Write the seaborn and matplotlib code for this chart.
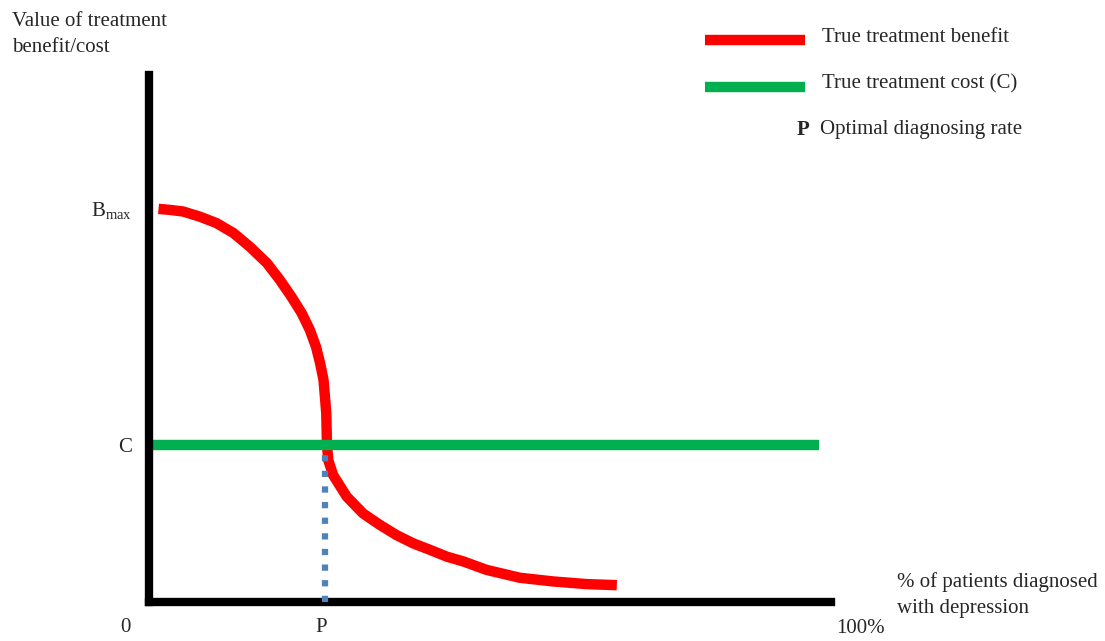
import matplotlib.pyplot as plt
import seaborn as sns
import numpy as np
from matplotlib.lines import Line2D

sns.set_theme(style="white")
plt.rcParams['font.family'] = ['Liberation Serif', 'DejaVu Serif']
plt.rcParams['mathtext.fontset'] = 'custom'
plt.rcParams['mathtext.rm'] = 'Liberation Serif'

# benefit curve (x: % diagnosed, y: value)
benefit_x = [1.4, 3.1, 5.0, 7.5, 9.9, 12.4, 14.8, 17.3, 19.2, 20.9, 22.4,
             23.6, 24.5, 25.1, 25.6, 25.8, 26.0, 26.1, 26.3, 27.0, 29.0,
             31.4, 33.9, 36.3, 38.8, 41.2, 43.7, 46.1, 49.5, 54.4, 59.3,
             64.2, 68.6]
benefit_y = [74.6, 74.4, 74.1, 73.1, 71.9, 70.0, 67.4, 64.3, 61.1, 57.9, 54.8,
             51.6, 48.4, 45.3, 42.1, 39.0, 35.8, 29.8, 26.9, 24.1, 20.0,
             16.8, 14.6, 12.7, 11.1, 9.9, 8.6, 7.7, 6.1, 4.6, 3.9,
             3.4, 3.2]
cost_x = [0, 98.2]
cost_value = 29.8   # C
b_max = 74.7
p_opt = 25.8        # optimal diagnosing rate

fig = plt.figure(figsize=(11.05, 6.41), dpi=100)
ax = fig.add_axes([0.1348, 0.0608, 0.6172, 0.8222])

sns.lineplot(x=benefit_x, y=benefit_y, ax=ax, color="#ff0000", linewidth=7.5,
             estimator=None, sort=False, solid_capstyle='butt',
             solid_joinstyle='round')
sns.lineplot(x=cost_x, y=[cost_value] * len(cost_x), ax=ax, color="#00b050",
             linewidth=7.5, estimator=None, solid_capstyle='butt')
ax.plot([p_opt, p_opt], [0, cost_value], color="#4f81bd", linewidth=4.5,
        linestyle=(0, (1, 1.5)), zorder=3)

ax.set_xlim(0, 100)
ax.set_ylim(0, 100)
for side in ['top', 'right']:
    ax.spines[side].set_visible(False)
for side in ['left', 'bottom']:
    ax.spines[side].set_linewidth(6)
    ax.spines[side].set_color('black')
    ax.spines[side].set_capstyle('projecting')

ax.set_xticks([])
ax.set_yticks([cost_value, b_max])
ax.set_yticklabels(['C', r'$\mathrm{B}_{\mathrm{max}}$'], fontsize=15)
ax.tick_params(axis='y', length=0, pad=12)

# x-axis marks
ax.annotate('0', xy=(0, 0), xytext=(-17, -18), textcoords='offset points',
            ha='center', va='center', fontsize=15, annotation_clip=False)
ax.annotate('P', xy=(p_opt, 0), xytext=(-3, -18), textcoords='offset points',
            ha='center', va='center', fontsize=15, annotation_clip=False)
ax.annotate('100%', xy=(100, 0), xytext=(21, -19), textcoords='offset points',
            ha='center', va='center', fontsize=15, annotation_clip=False)

fig.text(12 / 1105, 1 - 35 / 641, "Value of treatment\nbenefit/cost",
         ha='left', va='center', fontsize=15, linespacing=1.5)
fig.text(897 / 1105, (641 - 595) / 641, "% of patients diagnosed\nwith depression",
         ha='left', va='center', fontsize=15, linespacing=1.5)

# legend
fig.add_artist(Line2D([705 / 1105, 805 / 1105], [1 - 40 / 641] * 2,
                      transform=fig.transFigure, color="#ff0000", linewidth=7.5,
                      solid_capstyle='butt'))
fig.add_artist(Line2D([705 / 1105, 805 / 1105], [1 - 87 / 641] * 2,
                      transform=fig.transFigure, color="#00b050", linewidth=7.5,
                      solid_capstyle='butt'))
fig.text(822 / 1105, 1 - 37 / 641, "True treatment benefit", ha='left',
         va='center', fontsize=15)
fig.text(822 / 1105, 1 - 84 / 641, "True treatment cost (C)", ha='left',
         va='center', fontsize=15)
fig.text(797 / 1105, 1 - 130 / 641, "P", ha='left', va='center', fontsize=15,
         fontweight='bold')
fig.text(820 / 1105, 1 - 130 / 641, "Optimal diagnosing rate", ha='left',
         va='center', fontsize=15)

fig.savefig("out.png", dpi=100)
